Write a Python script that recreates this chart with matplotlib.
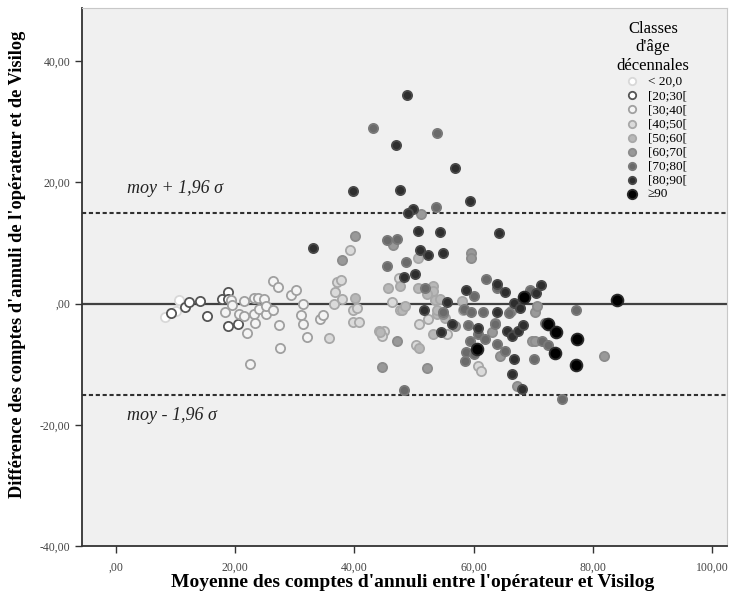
import numpy as np
import matplotlib
matplotlib.use("Agg")
import matplotlib.pyplot as plt
from matplotlib.ticker import FixedLocator

plt.rcParams['font.family'] = ['Liberation Serif', 'DejaVu Serif']

# age classes (legend order)
classes = ["< 20,0", "[20;30[", "[30;40[", "[40;50[", "[50;60[",
           "[60;70[", "[70;80[", "[80;90[", "\u226590"]

# mean of counts (x) and difference (y), one pair of lists per class
x_lt20 = [8.3, 10.1, 10.5]
y_lt20 = [-2.3, -1.3, 0.6]

x_20 = [9.2, 11.5, 12.2, 14.1, 15.3, 17.8, 18.8, 18.8, 18.8, 20.5]
y_20 = [-1.6, -0.5, 0.3, 0.4, -2.1, 0.7, 1.9, 0.8, -3.7, -3.4]

x_30 = [19.3, 19.4, 18.3, 20.7, 21.5, 21.5, 22.0, 22.5, 23.1, 23.9, 24.8, 23.1,
        23.4, 24.0, 25.2, 25.2, 26.4, 27.1, 27.4, 27.5, 26.3, 29.3, 30.2, 31.3,
        31.0, 31.3, 32.0, 34.3, 34.8]
y_30 = [0.5, -0.2, -1.4, -1.8, -2.1, 0.4, -4.8, -10.0, 0.9, 0.9, 0.8, -1.7,
        -3.2, -0.9, -1.8, -0.4, 3.7, 2.8, -3.6, -7.4, -1.1, 1.4, 2.3, 0.0,
        -1.9, -3.4, -5.6, -2.5, -1.9]

x_40 = [36.7, 37.0, 37.8, 36.5, 37.9, 35.8, 39.7, 40.5, 39.8, 40.7, 39.3, 45.0,
        44.1, 44.6, 46.3, 47.7, 52.4, 50.8, 55.6, 50.3, 60.8, 61.2, 47.5]
y_40 = [1.9, 3.5, 3.8, 0.0, 0.8, -5.7, -1.0, -0.8, -3.1, -3.0, 8.9, -4.6,
        -4.6, -5.3, 0.2, -1.0, -2.5, -3.3, -5.0, -6.9, -10.3, -11.1, 4.2]

x_50 = [40.1, 45.6, 44.3, 47.7, 50.6, 50.6, 53.1, 53.2, 52.1, 53.6, 54.4, 48.0,
        48.5, 53.9, 55.2, 53.2, 50.8, 58.1, 58.2, 53.8]
y_50 = [0.9, 2.6, -4.7, 2.9, 7.5, 2.5, 2.9, 2.0, 1.5, 0.6, 0.8, -1.0,
        -0.4, -1.8, -2.4, -5.1, -7.3, 0.4, -1.0, -1.0]

x_60 = [40.1, 38.0, 51.1, 59.5, 59.6, 46.4, 47.1, 44.7, 52.2, 63.6, 63.0, 66.2,
        70.3, 70.7, 69.8, 70.3, 81.8, 67.2, 56.9, 54.9, 64.4]
y_60 = [11.2, 7.1, 14.7, 8.3, 7.5, 9.7, -6.1, -10.5, -10.7, -3.2, -4.7, -1.3,
        -1.4, -0.4, -6.1, -6.1, -8.7, -13.6, -3.7, -1.8, -8.7]

x_70 = [43.1, 53.8, 53.7, 45.5, 47.2, 45.4, 48.7, 62.1, 63.9, 60.1, 51.8, 58.3,
        59.5, 61.5, 66.0, 59.0, 63.5, 60.7, 61.9, 59.4, 58.7, 58.6, 60.1, 64.0,
        65.3, 48.3, 54.8, 69.5, 77.1, 71.9, 71.4, 72.5, 70.2, 74.8]
y_70 = [28.9, 28.2, 15.9, 10.5, 10.6, 6.2, 6.9, 4.0, 2.5, 1.2, 2.6, -0.9,
        -1.4, -1.4, -1.5, -3.6, -3.3, -5.1, -5.8, -6.2, -8.0, -9.5, -8.3, -6.6,
        -7.9, -14.3, -1.4, 2.3, -1.1, -3.2, -6.1, -6.8, -9.2, -15.7]

x_80 = [48.9, 47.0, 56.8, 39.8, 47.6, 59.4, 49.9, 49.0, 50.7, 54.4, 64.2, 33.1,
        51.0, 52.3, 54.8, 48.3, 50.1, 64.0, 65.3, 58.7, 55.5, 51.6, 56.3, 54.6,
        60.8, 63.9, 66.7, 67.7, 65.6, 66.4, 67.5, 68.2, 66.7, 66.4, 68.1, 70.5,
        71.3]
y_80 = [34.4, 26.2, 22.4, 18.6, 18.8, 16.9, 15.6, 15.0, 12.0, 11.8, 11.6, 9.2,
        8.8, 8.0, 8.3, 4.4, 4.8, 3.3, 1.9, 2.2, 0.3, -1.1, -3.3, -4.7,
        -4.1, -1.4, 0.1, -0.7, -4.5, -5.4, -4.5, -3.5, -9.1, -11.7, -14.1, 1.8,
        3.0]

x_90 = [68.5, 60.5, 72.4, 73.8, 73.7, 77.3, 77.2, 84.0]
y_90 = [1.1, -7.5, -3.4, -4.7, -8.1, -5.9, -10.1, 0.5]

xs = [x_lt20, x_20, x_30, x_40, x_50, x_60, x_70, x_80, x_90]
ys = [y_lt20, y_20, y_30, y_40, y_50, y_60, y_70, y_80, y_90]

# limits of agreement
upper_loa = 14.85
lower_loa = -15.05

faces = ['#ffffff', '#ffffff', '#f4f4f4', '#dadada', '#b8b8b8',
         '#999999', '#6a6a6a', '#2e2e2e', '#000000']
edges = ['#d8d8d8', '#555555', '#a0a0a0', '#a8a8a8', '#a8a8a8',
         '#8c8c8c', '#7a7a7a', '#4a4a4a', '#2a2a2a']
sizes = [44, 44, 44, 44, 44, 44, 44, 44, 72]

fig = plt.figure(figsize=(7.3, 6.01), dpi=100)
ax = fig.add_axes([0.1123, 0.0915, 0.8836, 0.8952])
ax.set_facecolor('#f0f0f0')

ax.axhline(0, color='#404040', lw=1.6, zorder=1)
ax.axhline(upper_loa, color='#303030', lw=1.5, ls=(0, (2, 1.3)), zorder=1)
ax.axhline(lower_loa, color='#303030', lw=1.5, ls=(0, (2, 1.3)), zorder=1)

for i in range(len(classes)):
    ax.scatter(xs[i], ys[i], s=sizes[i], facecolor=faces[i], edgecolor=edges[i],
               linewidths=1.3, label=classes[i], zorder=2 + i)

ax.text(1.8, 18.9, 'moy + 1,96 \u03c3', style='italic', fontsize=13,
        va='center', ha='left', color='#222222')
ax.text(1.8, -18.4, 'moy - 1,96 \u03c3', style='italic', fontsize=13,
        va='center', ha='left', color='#222222')

ax.set_xlim(-5.7, 102.5)
ax.set_ylim(-40, 48.75)

xt = [0, 20, 40, 60, 80, 100]
yt = [-40, -20, 0, 20, 40]
ax.xaxis.set_major_locator(FixedLocator(xt))
ax.yaxis.set_major_locator(FixedLocator(yt))
ax.set_xticklabels([',00', '20,00', '40,00', '60,00', '80,00', '100,00'])
ax.set_yticklabels(['-40,00', '-20,00', ',00', '20,00', '40,00'])
ax.tick_params(direction='out', length=5, width=1, colors='#333333',
               labelsize=8.5, labelcolor='#444444')
ax.tick_params(axis='x', pad=6)

for side in ['left', 'bottom']:
    ax.spines[side].set_color('#333333')
    ax.spines[side].set_linewidth(1.3)
for side in ['top', 'right']:
    ax.spines[side].set_color('#c8c8c8')
    ax.spines[side].set_linewidth(0.8)

ax.set_xlabel("Moyenne des comptes d'annuli entre l'opérateur et Visilog",
              fontsize=14, fontweight='bold')
ax.set_ylabel("Différence des comptes d'annuli de l'opérateur et de Visilog",
              fontsize=13.2, fontweight='bold')
ax.xaxis.set_label_coords(0.513, -0.052)
ax.yaxis.set_label_coords(-0.087, 0.524)

leg = ax.legend(title="Classes\nd'âge\ndécennales", loc='upper center',
                bbox_to_anchor=(0.885, 0.976), frameon=False, fontsize=9.5,
                title_fontsize=12, labelspacing=0.14, handletextpad=0.15,
                borderaxespad=0, borderpad=0, markerscale=0.8)
leg.get_title().set_multialignment('center')

fig.savefig('out.png', dpi=100)
